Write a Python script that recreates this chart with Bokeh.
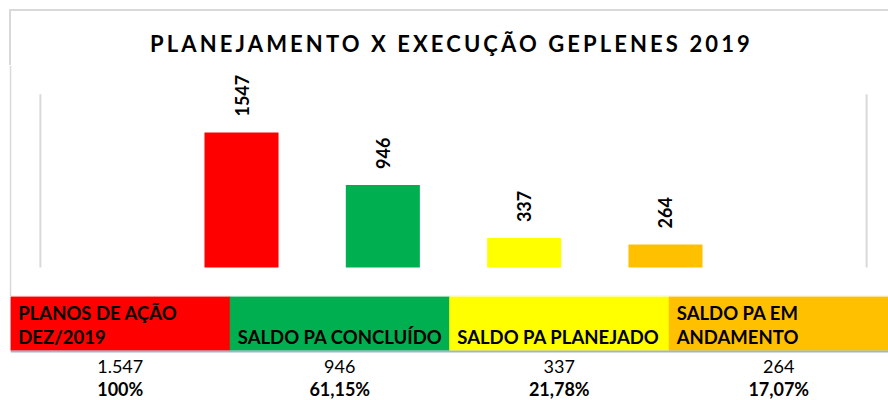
import math
from bokeh.plotting import figure
from bokeh.models import Range1d, FactorRange, Div, ColumnDataSource, Span
from bokeh.layouts import column
from bokeh.core.properties import value
from bokeh.embed import file_html
from bokeh.resources import INLINE

# ---------------- data ----------------
title_text = "PLANEJAMENTO X EXECUÇÃO GEPLENES 2019"
categories = ["PLANOS DE AÇÃO DEZ/2019", "SALDO PA CONCLUÍDO",
              "SALDO PA PLANEJADO", "SALDO PA EM ANDAMENTO"]
header_labels = ["PLANOS DE AÇÃO\nDEZ/2019", "SALDO PA CONCLUÍDO",
                 "SALDO PA PLANEJADO", "SALDO PA EM\nANDAMENTO"]
values = [1547, 946, 337, 264]
value_labels = ["1.547", "946", "337", "264"]
pct_labels = ["100%", "61,15%", "21,78%", "17,07%"]
colors = ["#FF0000", "#00B050", "#FFFF00", "#FFC000"]

# ---------------- style ----------------
FONT = "Lato"
BORDER = "#d9d9d9"
n = len(categories)

src = ColumnDataSource(dict(
    cat=categories, pos=list(range(n)), val=values, label=[str(v) for v in values],
    header=header_labels, vlabel=value_labels, plabel=pct_labels, color=colors,
))

title = Div(
    text=('<div style="box-sizing:border-box;width:879px;height:56px;'
          f'border-top:2px solid {BORDER};border-left:2px solid {BORDER};'
          'padding-top:23px;padding-left:4px;text-align:center;font-family:Lato;'
          'font-weight:bold;font-size:22px;line-height:20px;letter-spacing:3.1px;'
          f'color:#000;white-space:nowrap;">{title_text}</div>'),
    width=879, height=56, margin=(9, 0, 0, 9),
)

# ---------------- chart ----------------
chart = figure(
    width=879, height=231, margin=(0, 0, 0, 9), frame_align=False,
    x_range=Range1d(-1.6274, 4.5779),
    y_range=Range1d(-321, 2315),
    output_backend="svg", toolbar_location=None,
    x_axis_location=None, y_axis_location=None,
    min_border_left=2, min_border_bottom=1, min_border_top=0, min_border_right=0,
    border_fill_color=BORDER, background_fill_color="white",
    outline_line_color=None,
)
chart.grid.visible = False

edges = [-1.423, (n - 1) + 1.423]
chart.segment(x0=edges, y0=[0, 0], x1=edges, y1=[1985, 1985],
              line_color=BORDER, line_width=2)

chart.vbar(x="pos", top="val", width=0.524, fill_color="color", line_color=None, source=src)
chart.text(x="pos", y="val", text="label", angle=math.pi / 2,
           text_align="left", text_baseline="middle", y_offset=-16,
           text_font=value(FONT), text_font_style="bold", text_font_size="18px",
           text_color="black", source=src)

# ---------------- table ----------------
table = figure(
    width=888, height=104, margin=(0, 0, 0, 0), frame_align=False,
    x_range=FactorRange(factors=categories, range_padding=0),
    y_range=Range1d(104, 0),
    output_backend="svg", toolbar_location=None,
    x_axis_location=None, y_axis_location=None,
    min_border_left=10, min_border_bottom=0, min_border_top=0, min_border_right=0,
    border_fill_color="white", background_fill_color="white",
    outline_line_color=None,
)
table.grid.visible = False
table.vbar(x="cat", top=0, bottom=54, width=1, fill_color="color", line_color="color",
           line_width=0.5, source=src)
table.add_layout(Span(location=55, dimension="width", line_color="#9DB5D3", line_width=2))
table.text(x="cat", y=51.5, text="header", x_offset=-102,
           text_align="left", text_baseline="bottom", text_line_height=1.1,
           text_font=value(FONT), text_font_style="bold", text_font_size="18.5px",
           text_color="black", source=src)
table.text(x="cat", y=69.5, text="vlabel", text_align="center", text_baseline="middle",
           text_font=value(FONT), text_font_size="18px", text_color="black", source=src)
table.text(x="cat", y=92.5, text="plabel", text_align="center", text_baseline="middle",
           text_font=value(FONT), text_font_style="bold", text_font_size="18px",
           text_color="black", source=src)

layout = column(title, chart, table, spacing=0)

with open("out.html", "w") as f:
    f.write(file_html(layout, INLINE))
